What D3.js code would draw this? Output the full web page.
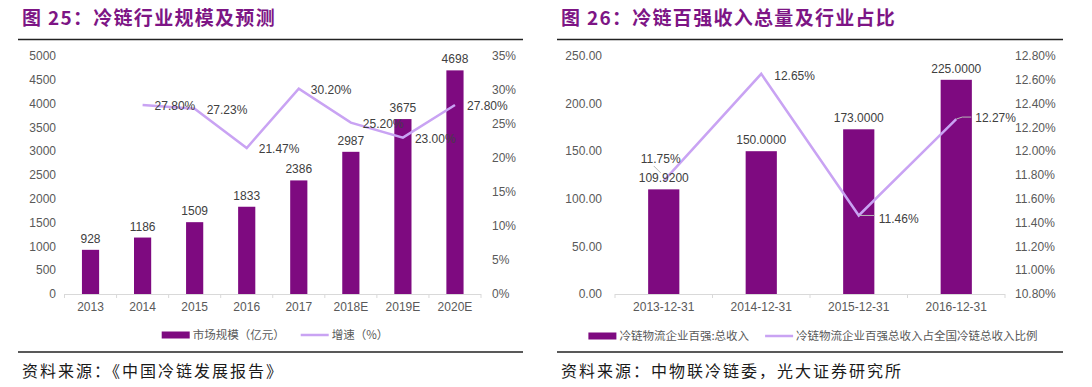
<!DOCTYPE html>
<html>
<head>
<meta charset="utf-8">
<script src="https://cdn.jsdelivr.net/npm/d3@7"></script>
<style>
  body { margin: 0; background: #fff; }
  svg { display: block; }
  text { font-family: "Liberation Sans", Arial, sans-serif; }
  .cjk { font-family: "Noto Sans CJK SC", sans-serif; }
</style>
</head>
<body>
<svg id="chart" width="1092" height="387"></svg>
<script>
'use strict';

// left chart: cold chain market size
var years = ['2013', '2014', '2015', '2016', '2017', '2018E', '2019E', '2020E'];
var marketSize = [928, 1186, 1509, 1833, 2386, 2987, 3675, 4698];
var growthRate = [null, 27.80, 27.23, 21.47, 30.20, 25.20, 23.00, 27.80];
var leftTicks = [0, 500, 1000, 1500, 2000, 2500, 3000, 3500, 4000, 4500, 5000];
var rightTicks = [0, 5, 10, 15, 20, 25, 30, 35];

// right chart: top 100 revenue
var dates = ['2013-12-31', '2014-12-31', '2015-12-31', '2016-12-31'];
var revenue = [109.92, 150.00, 173.00, 225.00];
var share = [11.75, 12.65, 11.46, 12.27];
var revTicks = [0, 50, 100, 150, 200, 250];
var shareTicks = [10.8, 11.0, 11.2, 11.4, 11.6, 11.8, 12.0, 12.2, 12.4, 12.6, 12.8];

var barColor = '#7e0a80';
var lineColor = '#c9a3f3';
var titleColor = '#7d1585';
var tickColor = '#595959';
var labelColor = '#404040';

var svg = d3.select('#chart');

function drawFrame(x0, x1, title, source) {
    svg.append('text').attr('class', 'cjk')
        .attr('x', x0 + 4).attr('y', 25)
        .attr('font-size', 19).attr('font-weight', 'bold')
        .attr('letter-spacing', 1.3)
        .attr('fill', titleColor)
        .text(title);
    svg.append('line')
        .attr('x1', x0).attr('x2', x1).attr('y1', 39.5).attr('y2', 39.5)
        .attr('stroke', '#222').attr('stroke-width', 1.3);
    svg.append('line')
        .attr('x1', x0).attr('x2', x1).attr('y1', 352).attr('y2', 352)
        .attr('stroke', '#222').attr('stroke-width', 1.3);
    svg.append('text').attr('class', 'cjk')
        .attr('x', x0 + 4).attr('y', 377)
        .attr('font-size', 16).attr('fill', '#1a1a1a')
        .attr('letter-spacing', 2)
        .text(source);
}

function drawXAxis(g, x, y0) {
    var r = x.range();
    g.append('line')
        .attr('x1', r[0]).attr('x2', r[1]).attr('y1', y0 + 0.5).attr('y2', y0 + 0.5)
        .attr('stroke', '#d9d9d9');
    var bounds = x.domain().map(function(d){ return x(d); }).concat([r[1]]);
    g.selectAll('.xtick').data(bounds).enter().append('line')
        .attr('x1', function(d){ return d; }).attr('x2', function(d){ return d; })
        .attr('y1', y0).attr('y2', y0 + 4)
        .attr('stroke', '#d9d9d9');
    g.selectAll('.xlabel').data(x.domain()).enter().append('text')
        .attr('x', function(d){ return x(d) + x.bandwidth() / 2; })
        .attr('y', y0 + 17)
        .attr('text-anchor', 'middle')
        .attr('font-size', 12).attr('fill', tickColor)
        .text(function(d){ return d; });
}

function drawYAxis(g, y, ticks, xPos, anchor, fmt) {
    g.selectAll(null).data(ticks).enter().append('text')
        .attr('x', xPos)
        .attr('y', function(d){ return y(d); })
        .attr('dy', '0.35em')
        .attr('text-anchor', anchor)
        .attr('font-size', 12).attr('fill', tickColor)
        .text(fmt);
}

function drawLegend(g, cx, cy, barLabel, lineLabel) {
    var leg = g.append('g');
    var t1 = leg.append('text').attr('class', 'cjk').attr('font-size', 11.5)
        .attr('fill', tickColor).attr('dy', '0.35em').attr('y', cy).text(barLabel);
    var t2 = leg.append('text').attr('class', 'cjk').attr('font-size', 11.5)
        .attr('fill', tickColor).attr('dy', '0.35em').attr('y', cy).text(lineLabel);
    var w1 = t1.node().getComputedTextLength();
    var w2 = t2.node().getComputedTextLength();
    var total = 28 + 3 + w1 + 16 + 28 + 3 + w2;
    var x = cx - total / 2;
    leg.append('rect').attr('x', x).attr('y', cy - 3.5).attr('width', 28).attr('height', 7)
        .attr('fill', barColor);
    t1.attr('x', x + 31);
    x += 31 + w1 + 16;
    leg.append('line').attr('x1', x).attr('x2', x + 28).attr('y1', cy).attr('y2', cy)
        .attr('stroke', lineColor).attr('stroke-width', 2.5);
    t2.attr('x', x + 31);
}

// ---------- left chart ----------
drawFrame(18, 523, '图 25：冷链行业规模及预测', '资料来源：《中国冷链发展报告》');

var gl = svg.append('g');
var xL = d3.scaleBand().domain(years).range([64.5, 481]).padding(0);
var yL = d3.scaleLinear().domain([0, 5000]).range([294, 56]);
var yLr = d3.scaleLinear().domain([0, 35]).range([294, 56]);

drawYAxis(gl, yL, leftTicks, 56, 'end', function(d){ return d; });
drawYAxis(gl, yLr, rightTicks, 492, 'start', function(d){ return d + '%'; });

var bwL = xL.bandwidth() * 0.33;
gl.selectAll('.bar').data(marketSize).enter().append('rect')
    .attr('x', function(d, i){ return xL(years[i]) + (xL.bandwidth() - bwL) / 2; })
    .attr('y', function(d){ return yL(d); })
    .attr('width', bwL)
    .attr('height', function(d){ return yL(0) - yL(d); })
    .attr('fill', barColor);

drawXAxis(gl, xL, 294);

gl.selectAll('.barlabel').data(marketSize).enter().append('text')
    .attr('x', function(d, i){ return xL(years[i]) + xL.bandwidth() / 2; })
    .attr('y', function(d){ return yL(d) - 7; })
    .attr('text-anchor', 'middle')
    .attr('font-size', 12).attr('fill', labelColor)
    .text(function(d){ return d; });

var growthPts = growthRate.map(function(v, i){ return {k: years[i], v: v}; })
    .filter(function(d){ return d.v !== null; });
var lineL = d3.line()
    .x(function(d){ return xL(d.k) + xL.bandwidth() / 2; })
    .y(function(d){ return yLr(d.v); });
gl.append('path').datum(growthPts)
    .attr('d', lineL)
    .attr('fill', 'none')
    .attr('stroke', lineColor)
    .attr('stroke-width', 2.5);
gl.selectAll('.linelabel').data(growthPts).enter().append('text')
    .attr('x', function(d){ return xL(d.k) + xL.bandwidth() / 2 + 12; })
    .attr('y', function(d){ return yLr(d.v) + 1; })
    .attr('dy', '0.35em')
    .attr('font-size', 12).attr('fill', labelColor)
    .text(function(d){ return d.v.toFixed(2) + '%'; });

drawLegend(gl, 275, 335, '市场规模（亿元）', '增速（%）');

// ---------- right chart ----------
drawFrame(557, 1063, '图 26：冷链百强收入总量及行业占比', '资料来源：中物联冷链委，光大证券研究所');

var gr = svg.append('g');
var xR = d3.scaleBand().domain(dates).range([615, 1005]).padding(0);
var yR = d3.scaleLinear().domain([0, 250]).range([294, 56]);
var yRr = d3.scaleLinear().domain([10.8, 12.8]).range([294, 56]);

drawYAxis(gr, yR, revTicks, 602, 'end', function(d){ return d.toFixed(2); });
drawYAxis(gr, yRr, shareTicks, 1015, 'start', function(d){ return d.toFixed(2) + '%'; });

var bwR = xR.bandwidth() * 0.32;
gr.selectAll('.bar').data(revenue).enter().append('rect')
    .attr('x', function(d, i){ return xR(dates[i]) + (xR.bandwidth() - bwR) / 2; })
    .attr('y', function(d){ return yR(d); })
    .attr('width', bwR)
    .attr('height', function(d){ return yR(0) - yR(d); })
    .attr('fill', barColor);

drawXAxis(gr, xR, 294);

var shareLine = d3.line()
    .x(function(d, i){ return xR(dates[i]) + xR.bandwidth() / 2; })
    .y(function(d){ return yRr(d); });
gr.append('path').datum(share)
    .attr('d', shareLine)
    .attr('fill', 'none')
    .attr('stroke', lineColor)
    .attr('stroke-width', 2.5);

gr.selectAll('.barlabel').data(revenue).enter().append('text')
    .attr('x', function(d, i){ return xR(dates[i]) + xR.bandwidth() / 2; })
    .attr('y', function(d){ return yR(d) - 7; })
    .attr('text-anchor', 'middle')
    .attr('font-size', 12).attr('fill', labelColor)
    .text(function(d){ return d.toFixed(4); });

// label placement for the share line: offset from its point, with leader line
var shareLabelOffset = [
    {dx: -23, dy: -22, anchor: 'start', leader: [[-3, -8], [-10, -15]]},
    {dx: 13, dy: 2, anchor: 'start', leader: null},
    {dx: 20, dy: 3, anchor: 'start', leader: [[0, 0], [16, 0]]},
    {dx: 19, dy: -1, anchor: 'start', leader: [[0, 0], [6, -2], [15, -2]]}
];
share.forEach(function(v, i){
    var px = xR(dates[i]) + xR.bandwidth() / 2;
    var py = yRr(v);
    var o = shareLabelOffset[i];
    if (o.leader) {
        gr.append('path')
            .attr('d', d3.line()(o.leader.map(function(p){ return [px + p[0], py + p[1]]; })))
            .attr('fill', 'none').attr('stroke', '#b8b8b8').attr('stroke-width', 1);
    }
    gr.append('text')
        .attr('x', px + o.dx).attr('y', py + o.dy)
        .attr('dy', '0.35em')
        .attr('text-anchor', o.anchor)
        .attr('font-size', 12).attr('fill', labelColor)
        .text(v.toFixed(2) + '%');
});

drawLegend(gr, 813, 336, '冷链物流企业百强:总收入', '冷链物流企业百强总收入占全国冷链总收入比例');
</script>
</body>
</html>
